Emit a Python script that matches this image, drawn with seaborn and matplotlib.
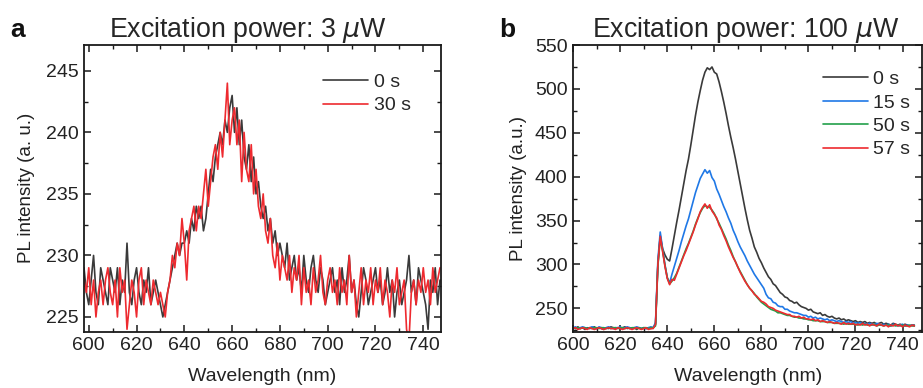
import numpy as np
import pandas as pd
import matplotlib
matplotlib.use("Agg")
import matplotlib.pyplot as plt
from matplotlib.ticker import MultipleLocator
import seaborn as sns

# ---- panel a: 3 uW, 1 nm steps from 598 nm ----
wl_a = np.arange(598, 748)
a_0s = [229, 227, 226, 228, 230, 227, 226, 229, 228, 227,
        226, 229, 228, 227, 229, 226, 228, 227, 231, 227,
        226, 228, 229, 227, 226, 228, 227, 229, 226, 227,
        228, 227,
        226, 225, 226, 227, 228, 229, 230, 231, 230, 231, 231,
        232, 231, 233, 232, 234, 233, 234, 232, 233, 235,
        237, 236, 238, 239, 240, 239, 241, 240, 242, 243,
        240, 242, 239, 241, 238, 237, 239, 236, 238, 235,
        236, 234, 233, 234, 232, 233, 231, 232, 230, 231,
        230, 229, 231, 228, 229, 230, 228, 229, 227, 230,
        228, 227, 229, 230, 228, 227, 229, 228, 226, 227,
        228, 229, 227, 228, 226, 229, 227, 228, 230, 227,
        228, 226, 225, 227, 229, 228, 226, 227, 228, 229,
        227, 228, 226, 227, 229, 227, 228, 225, 227, 228,
        226, 227, 228, 230, 227, 228, 226, 229, 228, 227,
        226, 224, 228, 227, 229, 226, 228]
a_30s = [228, 227, 229, 226, 228, 225, 227, 228, 226, 228,
         229, 227, 226, 228, 225, 229, 227, 228, 224, 226,
         228, 227, 225, 228, 229, 226, 228, 227, 226, 228,
         227, 226,
         227, 226, 225, 227, 228, 230, 229, 231, 230, 233, 231,
         228, 232, 233, 234, 232, 234, 233, 235, 237, 234,
         236, 238, 239, 237, 240, 238, 241, 244, 239, 241,
         242, 239, 241, 236, 240, 237, 236, 239, 235, 237,
         234, 233, 235, 232, 231, 233, 230, 229, 231, 228,
         230, 229, 228, 230, 227, 229, 228, 230, 226, 229,
         227, 228, 226, 229, 227, 228, 230, 227, 226, 228,
         229, 227, 228, 226, 229, 227, 228, 226, 230, 227,
         228, 225, 227, 229, 226, 228, 227, 229, 226, 228,
         227, 229, 226, 228, 227, 225, 228, 227, 229, 226,
         227, 228, 224, 223, 227, 228, 226, 228, 227, 229,
         227, 228, 226, 229, 227, 228, 229]
labels_a = ["0 s", "30 s"]
colors_a = ["#3a3a3a", "#ee2a2f"]

# ---- panel b: 100 uW, 1 nm steps from 600 nm ----
wl_b = np.arange(600, 746)
b_0s = [228, 227, 229, 227, 228, 226, 228, 227, 228, 229,
        227, 228, 227, 226, 228, 227, 229, 228, 227, 228,
        227, 228, 229, 227, 228, 227, 228, 226, 228, 227,
        228, 227, 228, 227, 228,
        232, 300, 333, 318, 311, 306, 304, 318, 333, 348,
        362, 377, 392, 407, 420, 436, 453, 470, 485, 498,
        510, 519, 524, 522, 525, 519, 517, 508, 497, 485,
        472, 458, 445, 433, 420, 406, 392, 378, 364, 351,
        339, 330, 320, 314, 307, 302, 296, 291, 286, 283,
        278, 276, 272, 268, 266, 263, 262, 259, 258, 256,
        257, 254, 252, 251, 250, 248, 249, 246, 245, 244,
        245, 242, 243, 241, 240, 241, 239, 238, 239, 237,
        238, 236, 237, 236, 235, 236, 234, 235, 234, 235,
        233, 234, 233, 234, 232, 233, 234, 232, 233, 232,
        231, 233, 232, 231, 232, 230, 232, 231, 230, 231,
        231]
b_15s = [228, 229, 227, 228, 229, 228, 227, 228, 229, 228,
         227, 229, 228, 227, 228, 229, 228, 227, 228, 228,
         229, 227, 228, 229, 228, 227, 228, 229, 228, 227,
         228, 227, 228, 229, 228,
         234, 305, 337, 318, 300, 285, 279, 289, 298, 307,
         316, 326, 335, 344, 352, 362, 372, 382, 390, 398,
         403, 408, 404, 407, 399, 395, 386, 380, 373, 366,
         360, 353, 347, 339, 333, 326, 320, 315, 310, 304,
         299, 294, 289, 285, 281, 277, 273, 266, 262, 261,
         257, 256, 253, 252, 252, 249, 249, 247, 246, 245,
         245, 244, 243, 242, 242, 240, 241, 239, 240, 238,
         239, 238, 237, 238, 236, 237, 236, 235, 236, 235,
         234, 235, 234, 235, 233, 234, 233, 234, 232, 233,
         232, 233, 232, 231, 233, 232, 231, 232, 231, 232,
         230, 232, 231, 230, 231, 232, 230, 231, 230, 231,
         230]
b_50s = [228, 227, 228, 227, 228, 228, 227, 228, 227, 228,
         228, 227, 228, 228, 227, 228, 227, 228, 228, 227,
         228, 228, 227, 228, 227, 228, 228, 227, 228, 227,
         228, 228, 227, 228, 228,
         230, 298, 330, 316, 299, 285, 278, 281, 285, 290,
         297, 304, 311, 318, 324, 331, 338, 346, 353, 359,
         364, 367, 366, 365, 362, 358, 352, 347, 341, 335,
         329, 322, 316, 309, 303, 297, 292, 287, 282, 277,
         273, 270, 267, 263, 260, 257, 255, 253, 251, 249,
         248, 247, 245, 245, 244, 243, 242, 242, 241, 240,
         240, 239, 239, 238, 238, 237, 237, 236, 236, 236,
         235, 235, 235, 234, 234, 234, 233, 233, 233, 233,
         232, 233, 232, 232, 232, 232, 231, 232, 231, 232,
         231, 231, 231, 232, 230, 231, 231, 230, 231, 231,
         230, 231, 230, 231, 230, 231, 230, 230, 231, 230,
         230]
b_57s = [227, 228, 226, 227, 228, 227, 226, 228, 227, 226,
         227, 228, 227, 226, 227, 228, 227, 227, 226, 228,
         227, 226, 227, 228, 227, 226, 227, 228, 227, 226,
         227, 228, 226, 227, 227,
         232, 300, 332, 315, 298, 284, 277, 283, 282, 289,
         296, 303, 310, 316, 323, 330, 337, 345, 352, 360,
         365, 369, 364, 368, 361, 357, 353, 345, 340, 333,
         327, 320, 314, 308, 303, 297, 291, 286, 281, 277,
         273, 270, 266, 264, 261, 258, 257, 255, 252, 251,
         250, 248, 247, 246, 245, 244, 243, 243, 241, 241,
         240, 241, 239, 240, 238, 238, 237, 238, 236, 237,
         235, 236, 235, 234, 235, 234, 233, 234, 233, 232,
         234, 232, 233, 232, 233, 231, 232, 231, 233, 231,
         232, 230, 232, 231, 230, 232, 231, 230, 231, 229,
         231, 230, 232, 230, 231, 229, 231, 230, 229, 231,
         230]
labels_b = ["0 s", "15 s", "50 s", "57 s"]
colors_b = ["#3a3a3a", "#1f78e6", "#23a04a", "#ee2a2f"]

sns.set_theme(style="ticks")
plt.rcParams["font.family"] = ["Liberation Sans", "DejaVu Sans"]
plt.rcParams["axes.linewidth"] = 1.3
plt.rcParams["axes.edgecolor"] = "#1a1a1a"
plt.rcParams["xtick.direction"] = "in"
plt.rcParams["ytick.direction"] = "in"
plt.rcParams["mathtext.fontset"] = "dejavusans"

fig = plt.figure(figsize=(9.23, 3.88), dpi=100)
ax_a = fig.add_axes([0.091, 0.145, 0.387, 0.739])
# panel b runs off the right edge of the picture, like the source figure
ax_b = fig.add_axes([0.621, 0.145, 0.378, 0.739])


def style_axis(ax, xlim, ylim, ymaj, ymin):
    ax.set_xlim(*xlim)
    ax.set_ylim(*ylim)
    ax.xaxis.set_major_locator(MultipleLocator(20))
    ax.xaxis.set_minor_locator(MultipleLocator(10))
    ax.yaxis.set_major_locator(MultipleLocator(ymaj))
    ax.yaxis.set_minor_locator(MultipleLocator(ymin))
    ax.tick_params(which="both", top=True, right=True, direction="in",
                   labelsize=14, color="#1a1a1a", labelcolor="#222222", pad=4)
    ax.tick_params(which="major", length=5, width=1.1)
    ax.tick_params(which="minor", length=3, width=1.0)
    ax.set_xlabel("Wavelength (nm)", fontsize=14, labelpad=10, color="#222222")


# panel a
df_a = pd.DataFrame({"wl": np.tile(wl_a, 2),
                     "pl": np.concatenate([a_0s, a_30s]),
                     "t": np.repeat(labels_a, len(wl_a))})
for lab, col in zip(labels_a, colors_a):
    sns.lineplot(data=df_a[df_a["t"] == lab], x="wl", y="pl", color=col,
                 lw=1.2, label=lab, ax=ax_a)
style_axis(ax_a, (598, 747.5), (223.8, 247.1), 5, 2.5)
ax_a.set_ylabel("PL intensity (a. u.)", fontsize=13.5, labelpad=8, color="#222222")
ax_a.set_title("Excitation power: 3 $\\mu$W", fontsize=19.3, pad=3, x=0.46)
ax_a.legend(loc="upper left", bbox_to_anchor=(0.643, 0.935), frameon=False,
            fontsize=14, handlelength=2.3, handletextpad=0.3, labelspacing=0.3,
            borderpad=0)

# panel b
df_b = pd.DataFrame({"wl": np.tile(wl_b, 4),
                     "pl": np.concatenate([b_0s, b_15s, b_50s, b_57s]),
                     "t": np.repeat(labels_b, len(wl_b))})
for lab, col in zip(labels_b, colors_b):
    sns.lineplot(data=df_b[df_b["t"] == lab], x="wl", y="pl", color=col,
                 lw=1.2, label=lab, ax=ax_b)
style_axis(ax_b, (600, 748.3), (223.4, 550), 50, 25)
ax_b.set_ylabel("PL intensity (a.u.)", fontsize=13.5, labelpad=6, color="#222222")
ax_b.set_title("Excitation power: 100 $\\mu$W", fontsize=19.3, pad=3, x=0.493)
ax_b.legend(loc="upper left", bbox_to_anchor=(0.688, 0.945), frameon=False,
            fontsize=14, handlelength=2.3, handletextpad=0.3, labelspacing=0.3,
            borderpad=0)

fig.text(0.011, 0.905, "a", fontsize=19, fontweight="bold", color="#111111")
fig.text(0.541, 0.905, "b", fontsize=19, fontweight="bold", color="#111111")

fig.savefig("out.png", dpi=100)
